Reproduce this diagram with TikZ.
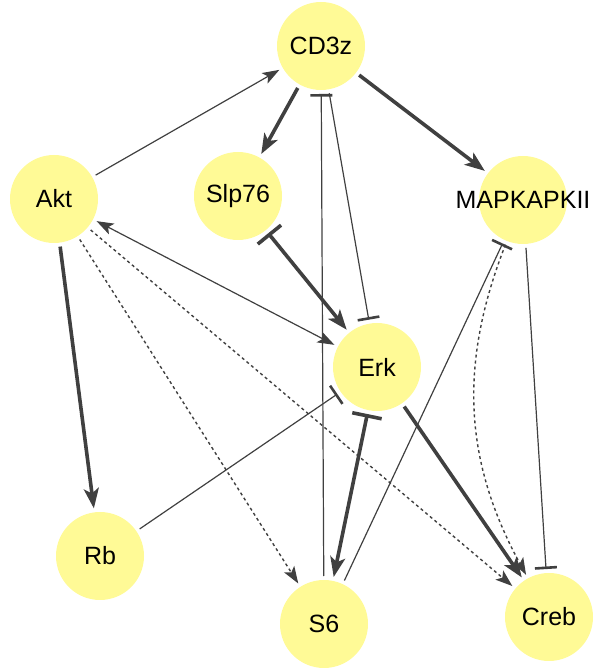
\documentclass[tikz,border=0pt]{standalone}
\usepackage{fontspec}
\setmainfont{Liberation Sans}
\usepackage{xcolor}
\usepackage{tikz}
\usetikzlibrary{arrows.meta}
\definecolor{pale}{RGB}{255,250,150}
\definecolor{edge}{RGB}{64,64,64}

\begin{document}
\begin{tikzpicture}[x=1pt, y=1pt, >={Stealth[length=17pt,width=12pt,inset=4pt]},
    big/.tip={Stealth[length=20pt,width=15pt,inset=5pt]},
    tee/.tip={Bar[width=22pt,line width=2.6pt]},
    bigtee/.tip={Bar[width=30pt,line width=3.6pt]},
    gene/.style={circle,fill=pale,minimum size=88pt,inner sep=0pt,outer sep=4pt,font=\fontsize{25}{30}\selectfont},
    slim/.style={draw=edge,line width=1.2pt},
    heavy/.style={draw=edge,line width=3.6pt},
    indirect/.style={draw=edge,line width=1.4pt,dash pattern=on 3pt off 3pt}]

    \useasboundingbox (0,0) rectangle (594,671);

    \node[gene] (CD3z) at (321,625) {CD3z};
    \node[gene] (Akt) at (54,472) {Akt};
    \node[gene] (Slp76) at (238,475) {Slp76};
    \node[gene] (MAPKAPKII) at (523,471) {\makebox[0pt]{MAPKAPKII}};
    \node[gene] (Erk) at (377,304) {Erk};
    \node[gene] (Rb) at (100,115) {Rb};
    \node[gene] (S6) at (324,47) {S6};
    \node[gene] (Creb) at (549,54) {Creb};

    \draw[slim,->] (Akt) -- (CD3z);
    \draw[heavy,-big] (CD3z) -- (Slp76);
    \draw[heavy,-big] (CD3z) -- (MAPKAPKII);
    \draw[heavy,bigtee-big] (Slp76) -- (Erk);
    \draw[slim,-tee] (CD3z) -- (Erk);
    \draw[slim,-tee] (S6) -- (CD3z);
    \draw[slim,<->] (Akt) -- (Erk);
    \draw[heavy,-big] (Akt) -- (Rb);
    \draw[indirect,->] (Akt) -- (S6);
    \draw[indirect,->] (Akt) -- (Creb);
    \draw[slim,-tee] (Rb) -- (Erk);
    \draw[heavy,bigtee-big] (Erk) -- (S6);
    \draw[heavy,-big] (Erk) -- (Creb);
    \draw[slim,-tee] (S6) -- (MAPKAPKII);
    \draw[slim,-tee] (MAPKAPKII) -- (Creb);
    \draw[indirect,->] (MAPKAPKII) to[bend right=25] (Creb);
  \end{tikzpicture}
\end{document}
